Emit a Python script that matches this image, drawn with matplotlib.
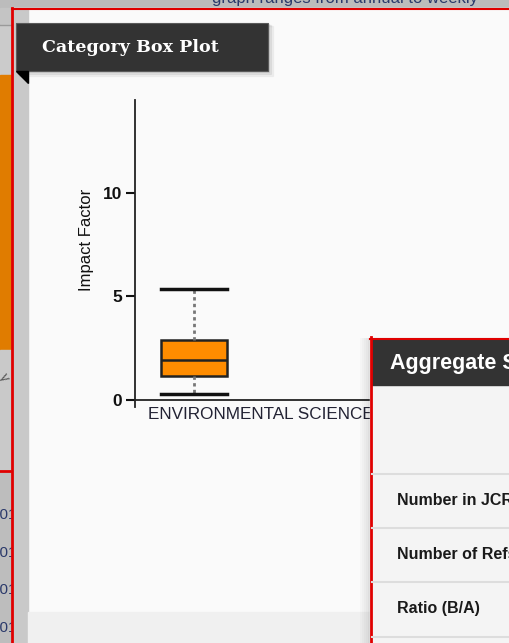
import numpy as np
import matplotlib
matplotlib.use("Agg")
import matplotlib.pyplot as plt
from matplotlib.patches import Rectangle, Polygon

plt.rcParams["font.family"] = ["Liberation Sans", "DejaVu Sans"]

# box plot data (impact factor of the category)
category = "ENVIRONMENTAL SCIENCE"
whisker_low = 0.27
q1 = 1.14
median = 1.91
q3 = 2.88
whisker_high = 5.35
yticks = [0, 5, 10]

# aggregate panel rows
agg_title = "Aggregate Statistics"
agg_rows = ["Number in JCR Year 2016 (A)", "Number of Refs to Journals (B)", "Ratio (B/A)"]

W, H = 510, 643
fig = plt.figure(figsize=(W / 100, H / 100), dpi=100)


def pix_axes(left, top, right, bottom, **kw):
    # axes placed with pixel coords measured from top-left
    return fig.add_axes([left / W, 1 - bottom / H, (right - left) / W, (bottom - top) / H], **kw)


# background page
bg = pix_axes(0, 0, W, H, zorder=0)
bg.set_xlim(0, W)
bg.set_ylim(H, 0)
bg.axis("off")
bg.add_patch(Rectangle((0, 0), W, H, color="#c2c2c2"))
bg.add_patch(Rectangle((0, 0), W, 8, color="#bcbcbc"))
bg.text(212, 3.5, "graph ranges from annual to weekly", color="#2b3a6b", fontsize=12, va="baseline", clip_on=True)
bg.add_patch(Rectangle((0, 8), 12, 16, color="#c4c4c4"))
bg.plot([0, 12], [24.5, 24.5], color="#9a9a9a", lw=1)
bg.add_patch(Rectangle((0, 25), 12, 50, color="#cbcbcb"))
bg.add_patch(Rectangle((0, 75), 12, 275, color="#e07c00"))
bg.add_patch(Rectangle((0, 350), 12, 120, color="#c9c9c9"))
bg.text(4, 378, "y", color="#555555", fontsize=10, rotation=-60, ha="center", va="center")
bg.plot([0, 12], [471, 471], color="#e00000", lw=2)
bg.add_patch(Rectangle((0, 472), 12, 171, color="#bdbdbd"))
for yy in [515, 553, 590, 628]:
    bg.text(-9, yy, "2016", color="#2b3a6b", fontsize=11, va="center", ha="left")

# main panel
bg.add_patch(Rectangle((12, 8), W - 12, H - 8, color="#fafafa", zorder=3))
bg.add_patch(Rectangle((13, 9), 15, H - 9, color="#c9c9c9", zorder=3))
bg.add_patch(Rectangle((28, 612), 345, 31, color="#f0f0f0", zorder=3))
bg.plot([12.5, 12.5], [8, H], color="#e00000", lw=2, zorder=4)
bg.plot([12, W], [8.5, 8.5], color="#e00000", lw=1.5, zorder=4)

# box plot axes
ax = pix_axes(135, 100, 480, 407, zorder=1)
ax.patch.set_alpha(0)
ax.set_xlim(0, 345)
ax.set_ylim(-0.363, 14.5)
stats = [{"whislo": whisker_low, "q1": q1, "med": median, "q3": q3, "whishi": whisker_high}]
ax.bxp(stats, positions=[59], widths=66, capwidths=66, showfliers=False, patch_artist=True,
       boxprops=dict(facecolor="#ff8c00", edgecolor="#222222", linewidth=1.8),
       medianprops=dict(color="#222222", linewidth=1.8),
       whiskerprops=dict(color="#777777", linestyle=(0, (1.2, 1.2)), linewidth=2),
       capprops=dict(color="#111111", linewidth=2.5))
ax.spines["top"].set_visible(False)
ax.spines["right"].set_visible(False)
ax.spines["bottom"].set_position(("data", 0))
ax.spines["left"].set_color("#222222")
ax.spines["bottom"].set_color("#222222")
ax.spines["left"].set_linewidth(1.3)
ax.spines["bottom"].set_linewidth(1.3)
ax.set_xticks([])
ax.set_yticks(yticks)
ax.set_yticklabels([str(t) for t in yticks], fontweight="bold", fontsize=12.5, color="#111111")
ax.tick_params(axis="y", length=6.5, width=1.5, pad=3, color="#111111")
ax.set_ylabel("Impact Factor", fontsize=12, color="#111111")
ax.yaxis.set_label_coords(-0.12, 0.544)
ax.text(13, -0.75, category, fontsize=12.3, color="#222233", ha="left", va="center", clip_on=False)

# overlay: title badge and aggregate panel
ov = pix_axes(0, 0, W, H, zorder=2)
ov.patch.set_alpha(0)
ov.set_xlim(0, W)
ov.set_ylim(H, 0)
ov.axis("off")
for i, a in enumerate([0.08, 0.06, 0.04]):
    ov.add_patch(Rectangle((16 + i + 1, 23 + i + 1), 252 + i, 48 + i, color="black", alpha=a))
ov.add_patch(Rectangle((16, 23), 252, 48, facecolor="#333333", edgecolor="#5a5a5a", lw=0.8))
ov.add_patch(Polygon([(16, 71), (28, 71), (28, 83)], closed=True, color="black"))
ov.text(42, 47.5, "Category Box Plot", color="white", fontsize=12.6, fontweight="bold",
        family="DejaVu Serif", va="center", ha="left")

for i, a in enumerate([0.02, 0.04, 0.06, 0.08, 0.11]):
    ov.add_patch(Rectangle((360 + 2 * i, 338), 2, H - 338, color="black", alpha=a, lw=0))
ov.add_patch(Rectangle((370, 338), W - 370, H - 338, color="#f4f4f4"))
ov.add_patch(Rectangle((372, 340), W - 372, 45, color="#333333"))
ov.plot([371, 371], [337, H], color="#e00000", lw=2)
ov.plot([370, W], [338.5, 338.5], color="#e00000", lw=1.5)
ov.text(390, 363, agg_title, color="white", fontsize=15.5, fontweight="bold", va="center", ha="left")
for yy in [474, 528, 582, 637]:
    ov.plot([372, W], [yy, yy], color="#dddddd", lw=1.5)
for yy, label in zip([501, 554, 608], agg_rows):
    ov.text(397, yy, label, color="#1a1a1a", fontsize=11.5, fontweight="bold", va="center", ha="left")

fig.savefig("out.png", dpi=100)
